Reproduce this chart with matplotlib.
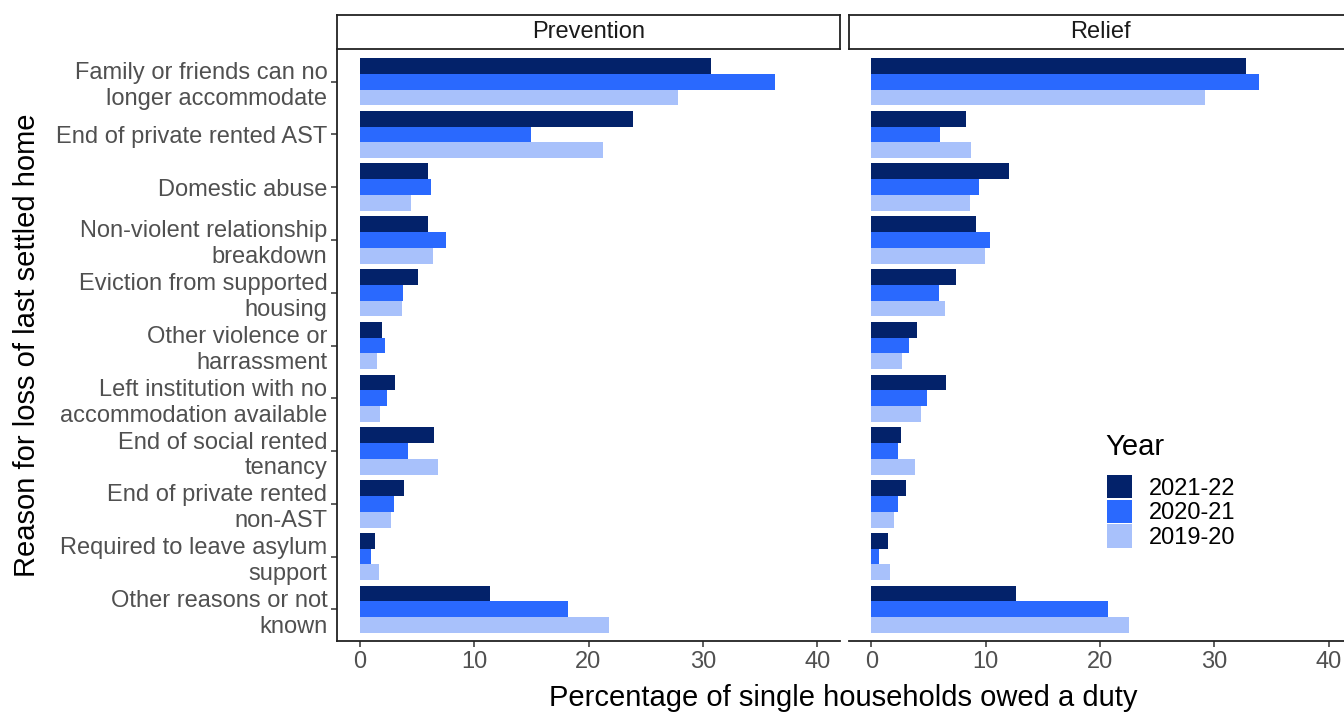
import matplotlib
matplotlib.use("Agg")
import matplotlib.pyplot as plt
from matplotlib.patches import Patch
import numpy as np

plt.rcParams.update({
    "font.family": ["Liberation Sans", "DejaVu Sans"],
    "font.size": 17,
})

REASONS = [
    "Family or friends can no\nlonger accommodate",
    "End of private rented AST",
    "Domestic abuse",
    "Non-violent relationship\nbreakdown",
    "Eviction from supported\nhousing",
    "Other violence or\nharrassment",
    "Left institution with no\naccommodation available",
    "End of social rented\ntenancy",
    "End of private rented\nnon-AST",
    "Required to leave asylum\nsupport",
    "Other reasons or not\nknown",
]
YEARS = ["2021-22", "2020-21", "2019-20"]
COLORS = ["#03226a", "#2a69fe", "#a8c1fb"]

# percentages, one list per year, order as REASONS
PREVENTION = {
    "2021-22": [30.7, 23.9, 6.0, 6.0, 5.1, 1.9, 3.1, 6.5, 3.9, 1.35, 11.4],
    "2020-21": [36.3, 15.0, 6.2, 7.55, 3.8, 2.2, 2.4, 4.2, 3.0, 1.0, 18.2],
    "2019-20": [27.8, 21.3, 4.5, 6.4, 3.7, 1.5, 1.75, 6.85, 2.7, 1.65, 21.8],
}
RELIEF = {
    "2021-22": [32.8, 8.3, 12.05, 9.15, 7.4, 4.0, 6.5, 2.55, 3.0, 1.45, 12.65],
    "2020-21": [33.9, 6.0, 9.45, 10.35, 5.95, 3.3, 4.9, 2.3, 2.35, 0.7, 20.7],
    "2019-20": [29.2, 8.75, 8.6, 9.9, 6.4, 2.65, 4.35, 3.8, 2.0, 1.65, 22.5],
}
PANELS = [("Prevention", PREVENTION), ("Relief", RELIEF)]

W, H = 1344, 713
fig = plt.figure(figsize=(W / 100, H / 100), dpi=100)

ax_w = (840 - 337) / W
ax_bottom = 1 - 641 / H
ax_h = (641 - 50) / H
lefts = [337 / W, 848.6 / W]

pos = np.arange(len(REASONS))
bar_h = 0.3
offsets = [-0.3, 0.0, 0.3]

for k, (title, data) in enumerate(PANELS):
    ax = fig.add_axes([lefts[k], ax_bottom, ax_w, ax_h])
    for yr, col, off in zip(YEARS, COLORS, offsets):
        ax.barh(pos + off, data[yr], height=bar_h, color=col, linewidth=0)
    ax.set_xlim(-2, 42)
    ax.set_ylim(len(REASONS) - 0.4, -0.6)
    ax.set_xticks([0, 10, 20, 30, 40])
    for s in ["top", "right"]:
        ax.spines[s].set_visible(False)
    ax.spines["bottom"].set_linewidth(1.3)
    ax.spines["bottom"].set_color("#222222")
    ax.tick_params(axis="both", colors="#333333", labelcolor="#505050",
                   length=4, width=1.1, labelsize=17, pad=3)
    if k == 0:
        ax.set_yticks(pos)
        ax.set_yticklabels(REASONS, linespacing=1.22)
        ax.spines["left"].set_linewidth(1.3)
        ax.spines["left"].set_color("#222222")
    else:
        ax.spines["left"].set_visible(False)
        ax.set_yticks([])
    # facet strip
    sx = fig.add_axes([lefts[k], 1 - 49 / H, ax_w, 34 / H])
    sx.set_xticks([])
    sx.set_yticks([])
    for s in sx.spines.values():
        s.set_linewidth(1.3)
        s.set_color("#222222")
    sx.text(0.5, 0.5, title, ha="center", va="center", fontsize=17,
            color="#1a1a1a", transform=sx.transAxes)

fig.text(843 / W, 1 - 698 / H, "Percentage of single households owed a duty",
         ha="center", va="center", fontsize=21)
fig.text(27 / W, 1 - 345 / H, "Reason for loss of last settled home",
         ha="center", va="center", rotation=90, fontsize=21)

fig.text(1105 / W, 1 - 447 / H, "Year", ha="left", va="center", fontsize=21)
handles = [Patch(facecolor=c, edgecolor="none", label=y) for y, c in zip(YEARS, COLORS)]
fig.legend(handles=handles, loc="upper left",
           bbox_to_anchor=(1107 / W, 1 - 475 / H), frameon=False,
           fontsize=17, handlelength=1.06, handleheight=1.15,
           labelspacing=0.0, handletextpad=0.7, borderpad=0,
           borderaxespad=0)

fig.savefig("out.png", dpi=100)
